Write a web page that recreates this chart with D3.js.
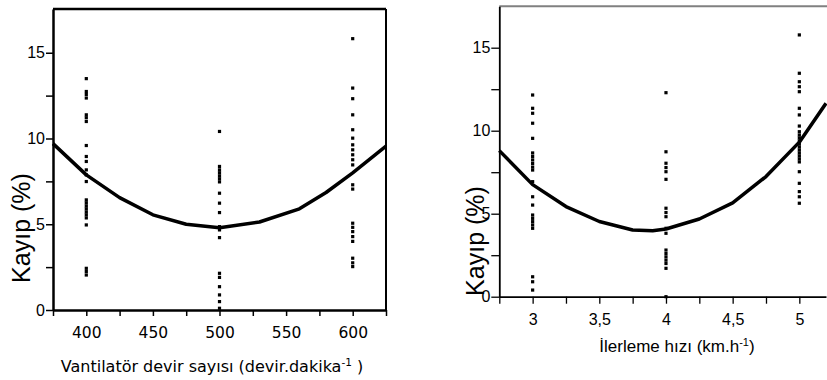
<!DOCTYPE html>
<html>
<head>
<meta charset="utf-8">
<script src="https://cdn.jsdelivr.net/npm/d3@7.9.0/dist/d3.min.js"></script>
<style>
  body { margin: 0; background: #fff; }
  svg { display: block; }
</style>
</head>
<body>
<svg width="827" height="380"></svg>
<script>
// Left panel: fan speed (devir.dakika-1)
const fanSpeeds = [400, 500, 600];
const fanLoss400 = [13.49, 12.74, 12.57, 12.36, 11.38, 11.21, 10.99, 9.59, 8.95, 8.66, 8.17, 7.88, 7.49,
  6.42, 6.25, 6.07, 5.9, 5.72, 5.55, 5.37, 4.96, 2.43, 2.24, 2.04];
const fanLoss500 = [10.41, 8.37, 8.17, 8.0, 7.82, 7.65, 7.47, 6.81, 6.23, 5.68, 4.86, 4.67, 4.22,
  2.14, 1.9, 1.36, 0.88, 0.49, 0.1];
const fanLoss600 = [15.82, 12.94, 12.32, 11.38, 10.51, 10.02, 9.63, 9.34, 9.05, 8.76, 8.46, 7.3, 7.05,
  5.06, 4.82, 4.57, 4.28, 4.0, 3.02, 2.75, 2.53];
const fanCurveX = [375, 400, 425, 450, 475, 500, 530, 560, 580, 600, 625];
const fanCurveY = [9.7, 7.88, 6.55, 5.55, 5.0, 4.8, 5.13, 5.9, 6.85, 8.0, 9.55];
const fanTicksX = [375, 400, 425, 450, 475, 500, 525, 550, 575, 600, 625];
const fanTickLabels = [400, 450, 500, 550, 600];

// Right panel: forward speed (km.h-1)
const forwardSpeeds = [3, 4, 5];
const speedLoss3 = [12.15, 11.35, 11.05, 10.45, 9.54, 8.66, 8.45, 8.24, 8.03, 7.81, 7.63, 6.93, 6.02,
  5.52, 4.92, 4.72, 4.52, 4.32, 4.12, 1.2, 0.9, 0.4];
const speedLoss4 = [12.29, 8.73, 8.04, 7.78, 7.53, 7.07, 5.33, 5.07, 4.82, 4.12, 3.82, 2.81, 2.6, 2.4,
  2.2, 2.0, 1.71, 0];
const speedLoss5 = [15.77, 13.46, 12.95, 12.65, 12.35, 11.35, 10.95, 10.28, 9.94, 9.74, 9.56, 9.38, 9.2,
  9.02, 8.84, 8.66, 8.48, 8.3, 8.12, 7.53, 6.83, 6.33, 6.02, 5.63];
const speedCurveX = [2.75, 3.0, 3.25, 3.5, 3.75, 3.9, 4.0, 4.25, 4.5, 4.75, 5.0, 5.2];
const speedCurveY = [8.8, 6.75, 5.43, 4.53, 4.02, 3.97, 4.08, 4.68, 5.65, 7.24, 9.31, 11.65];
const speedTicksX = [2.75, 3, 3.25, 3.5, 3.75, 4, 4.25, 4.5, 4.75, 5];
const speedLabelAt = [3, 3.5, 4, 4.5, 5];
const speedTickLabels = ["3", "3,5", "4", "4,5", "5"];

const lossTicks = [0, 2.5, 5, 7.5, 10, 12.5, 15];
const lossTickLabels = [0, 5, 10, 15];

const svg = d3.select("svg");
svg.append("rect").attr("width", 827).attr("height", 380).attr("fill", "#fff");

// ---------- left panel ----------
const xL = d3.scaleLinear().domain([375, 625]).range([53, 386]);
const yL = d3.scaleLinear().domain([0, 17.55]).range([310, 9]);

const gL = svg.append("g");

// frame: top + right
gL.append("line").attr("x1", xL(375)).attr("x2", xL(625)).attr("y1", 9).attr("y2", 9)
  .attr("stroke", "#000").attr("stroke-width", 2.5);
gL.append("line").attr("x1", xL(625)).attr("x2", xL(625)).attr("y1", 9).attr("y2", 310)
  .attr("stroke", "#000").attr("stroke-width", 2);

const axLx = gL.append("g").attr("transform", "translate(0,310)")
  .call(d3.axisBottom(xL).tickValues(fanTicksX).tickSize(6).tickSizeOuter(0).tickPadding(11)
    .tickFormat(d => fanTickLabels.includes(d) ? d : ""));
axLx.select(".domain").attr("stroke-width", 2.5);
axLx.selectAll(".tick line").attr("stroke-width", 1.5);
axLx.selectAll("text").attr("font-family", "DejaVu Sans").attr("font-size", 15.5).attr("fill", "#000");

const axLy = gL.append("g").attr("transform", `translate(${xL(375)},0)`)
  .call(d3.axisLeft(yL).tickValues(lossTicks).tickSize(7).tickSizeOuter(0).tickPadding(1)
    .tickFormat(d => lossTickLabels.includes(d) ? d : ""));
axLy.select(".domain").attr("stroke-width", 2.5);
axLy.selectAll(".tick line").attr("stroke-width", 1.5);
axLy.selectAll("text").attr("font-family", "Liberation Sans").attr("font-size", 16).attr("fill", "#000");

const fanPoints = [fanLoss400, fanLoss500, fanLoss600]
  .flatMap((vals, i) => vals.map(v => ({ x: fanSpeeds[i], y: v })));
gL.selectAll("rect.pt").data(fanPoints).join("rect").attr("class", "pt")
  .attr("x", d => xL(d.x) - 1.6).attr("y", d => yL(d.y) - 1.6)
  .attr("width", 3.2).attr("height", 3.2).attr("fill", "#000");

const fanLine = d3.line().x(d => xL(d[0])).y(d => yL(d[1]));
gL.append("path").attr("d", fanLine(d3.zip(fanCurveX, fanCurveY)))
  .attr("fill", "none").attr("stroke", "#000").attr("stroke-width", 3.5).attr("stroke-linejoin", "round");

gL.append("text").attr("transform", "translate(30,228) rotate(-90)").attr("text-anchor", "middle")
  .attr("font-family", "Liberation Sans").attr("font-size", 25).text("Kayıp (%)");

const tL = gL.append("text").attr("x", 212).attr("y", 372).attr("text-anchor", "middle")
  .attr("font-family", "DejaVu Sans").attr("font-size", 16);
tL.append("tspan").text("Vantilatör devir sayısı (devir.dakika");
tL.append("tspan").attr("dy", -6).attr("font-size", 10.5).text("-1");
tL.append("tspan").attr("dy", 6).text(" )");

// ---------- right panel ----------
const xR = d3.scaleLinear().domain([2.75, 5.2]).range([499.3, 826]);
const yR = d3.scaleLinear().domain([0, 17.5]).range([296.7, 6.2]);

const gR = svg.append("g");

gR.append("line").attr("x1", xR(2.75)).attr("x2", 827).attr("y1", 6.2).attr("y2", 6.2)
  .attr("stroke", "#808080").attr("stroke-width", 2);

const axRx = gR.append("g").attr("transform", "translate(0,296.7)")
  .call(d3.axisBottom(xR).tickValues(speedTicksX).tickSize(7).tickSizeOuter(0).tickPadding(10)
    .tickFormat(d => speedLabelAt.includes(d) ? speedTickLabels[speedLabelAt.indexOf(d)] : ""));
axRx.select(".domain").attr("stroke-width", 1.8);
axRx.selectAll(".tick line").attr("stroke-width", 1.3);
axRx.selectAll("text").attr("font-family", "Liberation Sans").attr("font-size", 16).attr("fill", "#000");

const axRy = gR.append("g").attr("transform", `translate(${xR(2.75)},0)`)
  .call(d3.axisLeft(yR).tickValues(lossTicks).tickSize(8).tickSizeOuter(0).tickPadding(1)
    .tickFormat(d => lossTickLabels.includes(d) ? d : ""));
axRy.select(".domain").attr("stroke-width", 1.8);
axRy.selectAll(".tick line").attr("stroke-width", 1.3);
axRy.selectAll("text").attr("font-family", "Liberation Sans").attr("font-size", 16).attr("fill", "#000");

const speedPoints = [speedLoss3, speedLoss4, speedLoss5]
  .flatMap((vals, i) => vals.map(v => ({ x: forwardSpeeds[i], y: v })));
gR.selectAll("rect.pt").data(speedPoints).join("rect").attr("class", "pt")
  .attr("x", d => xR(d.x) - 1.6).attr("y", d => yR(d.y) - 1.6)
  .attr("width", 3.2).attr("height", 3.2).attr("fill", "#000");

const speedLine = d3.line().x(d => xR(d[0])).y(d => yR(d[1]));
gR.append("path").attr("d", speedLine(d3.zip(speedCurveX, speedCurveY)))
  .attr("fill", "none").attr("stroke", "#000").attr("stroke-width", 3.5).attr("stroke-linejoin", "round");

gR.append("text").attr("transform", "translate(484,241) rotate(-90)").attr("text-anchor", "middle")
  .attr("font-family", "Liberation Sans").attr("font-size", 25).text("Kayıp (%)");

const tR = gR.append("text").attr("x", 677).attr("y", 352).attr("text-anchor", "middle")
  .attr("font-family", "Liberation Sans").attr("font-size", 17);
tR.append("tspan").text("İlerleme hızı (km.h");
tR.append("tspan").attr("dy", -6).attr("font-size", 11).text("-1");
tR.append("tspan").attr("dy", 6).text(")");
</script>
</body>
</html>
